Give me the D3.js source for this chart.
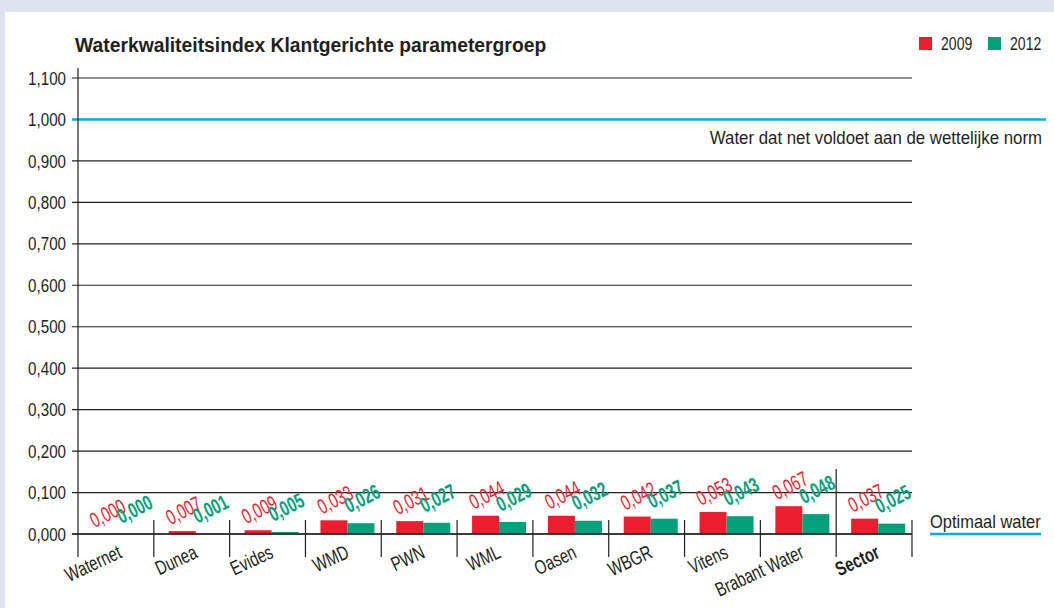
<!DOCTYPE html>
<html><head><meta charset="utf-8">
<script src="https://cdn.jsdelivr.net/npm/d3@7/dist/d3.min.js"></script>
<style>
html,body{margin:0;padding:0;background:#dfe2f0;}
svg{display:block;}
text{font-family:"Liberation Sans",Arial,sans-serif;fill:#231f20;}
</style></head>
<body>
<svg id="c" width="1054" height="608"></svg>
<script>
const categories = ["Waternet","Dunea","Evides","WMD","PWN","WML","Oasen","WBGR","Vitens","Brabant Water","Sector"];
const values2009 = [0.000,0.007,0.009,0.033,0.031,0.044,0.044,0.042,0.053,0.067,0.037];
const values2012 = [0.000,0.001,0.005,0.026,0.027,0.029,0.032,0.037,0.043,0.048,0.025];
const seriesNames = ["2009","2012"];
const yTicks = [0,0.1,0.2,0.3,0.4,0.5,0.6,0.7,0.8,0.9,1.0,1.1];
const title = "Waterkwaliteitsindex Klantgerichte parametergroep";
const normLabel = "Water dat net voldoet aan de wettelijke norm";
const optimumLabel = "Optimaal water";

const colors = {"2009":"#ed1c2e","2012":"#00a07a"};
const blue = "#00aee6";
const dark = "#231f20";
const svg = d3.select("#c");

svg.append("rect").attr("x",5).attr("y",12).attr("width",1049).attr("height",596).attr("fill","#fff");

const left=78, right=912, y0=534, y1=78;
const y = d3.scaleLinear().domain([0,1.1]).range([y0,y1]);
const x = d3.scaleBand().domain(categories).range([left,right]).padding(0);
const xs = d3.scaleBand().domain(seriesNames).range([15,69]).padding(0);
const fmt = v => d3.format(".3f")(v).replace(".",",");

// text helper: condensed face emulated with a horizontal scale
function label(parent, tx, ty, str, o){
  return parent.append("text")
    .attr("transform",`translate(${tx},${ty}) rotate(${o.rot||0}) scale(${o.f},1)`)
    .attr("text-anchor",o.anchor||"start")
    .attr("dy",o.dy||null)
    .attr("font-size",o.size)
    .attr("font-weight",o.bold?"bold":"normal")
    .style("fill",o.color||dark)
    .text(str);
}

label(svg,75,52,title,{size:21,bold:true,f:0.92});

// gridlines
const g = svg.append("g");
yTicks.forEach(t=>{
  const isNorm = Math.abs(t-1)<1e-9;
  g.append("line").attr("x1",72).attr("x2",isNorm?1046:right)
    .attr("y1",y(t)).attr("y2",y(t))
    .attr("stroke",isNorm?blue:dark).attr("stroke-width",isNorm?2.5:1.2);
  label(g,66,y(t),fmt(t),{size:18.5,f:0.82,anchor:"end",dy:"0.36em"});
});
// y axis
svg.append("line").attr("x1",left).attr("x2",left).attr("y1",68).attr("y2",557).attr("stroke",dark).attr("stroke-width",1.2);

// bars
const data = categories.map((c,i)=>({c, vals:[{s:"2009",v:values2009[i]},{s:"2012",v:values2012[i]}]}));
const grp = svg.selectAll("g.cat").data(data).join("g").attr("class","cat")
  .attr("transform",d=>`translate(${x(d.c)},0)`);
grp.selectAll("rect").data(d=>d.vals).join("rect")
  .attr("x",d=>xs(d.s)).attr("width",xs.bandwidth())
  .attr("y",d=>y(d.v)).attr("height",d=>y0-y(d.v))
  .attr("fill",d=>colors[d.s]);
grp.each(function(d){
  const gg = d3.select(this);
  d.vals.forEach(p=>{
    label(gg, xs(p.s)+xs.bandwidth()/2+1, y(p.v)-(p.s==="2009"?21:25), fmt(p.v),
      {size:21,f:0.7,rot:-27,anchor:"middle",dy:"0.36em",bold:p.s==="2012",color:colors[p.s]});
  });
});

// baseline
svg.append("line").attr("x1",72).attr("x2",right).attr("y1",y0).attr("y2",y0).attr("stroke",dark).attr("stroke-width",1.4);

// separators
const seps = categories.map(c=>x(c)).concat([right]);
seps.forEach((sx,i)=>{
  if(i===0) return;
  const top = categories[i]==="Sector" ? 469 : 520;
  svg.append("line").attr("x1",sx).attr("x2",sx).attr("y1",top).attr("y2",557).attr("stroke",dark).attr("stroke-width",1.2);
});

// category labels
categories.forEach(c=>{
  label(svg, x(c)+x.bandwidth()/2+7, 557, c, {size:20,f:0.74,rot:-25,anchor:"end",bold:c==="Sector"});
});

// legend
seriesNames.forEach((s,i)=>{
  const lx = 919 + i*69;
  svg.append("rect").attr("x",lx).attr("y",37).attr("width",13).attr("height",13).attr("fill",colors[s]);
  label(svg,lx+22,50,s,{size:18.5,f:0.76});
});

// annotations
label(svg,1042,144,normLabel,{size:18.5,f:0.91,anchor:"end"});
label(svg,930,528,optimumLabel,{size:18.5,f:0.89});
svg.append("line").attr("x1",930).attr("x2",1041).attr("y1",y0).attr("y2",y0).attr("stroke",blue).attr("stroke-width",2.5);
</script>
</body></html>
